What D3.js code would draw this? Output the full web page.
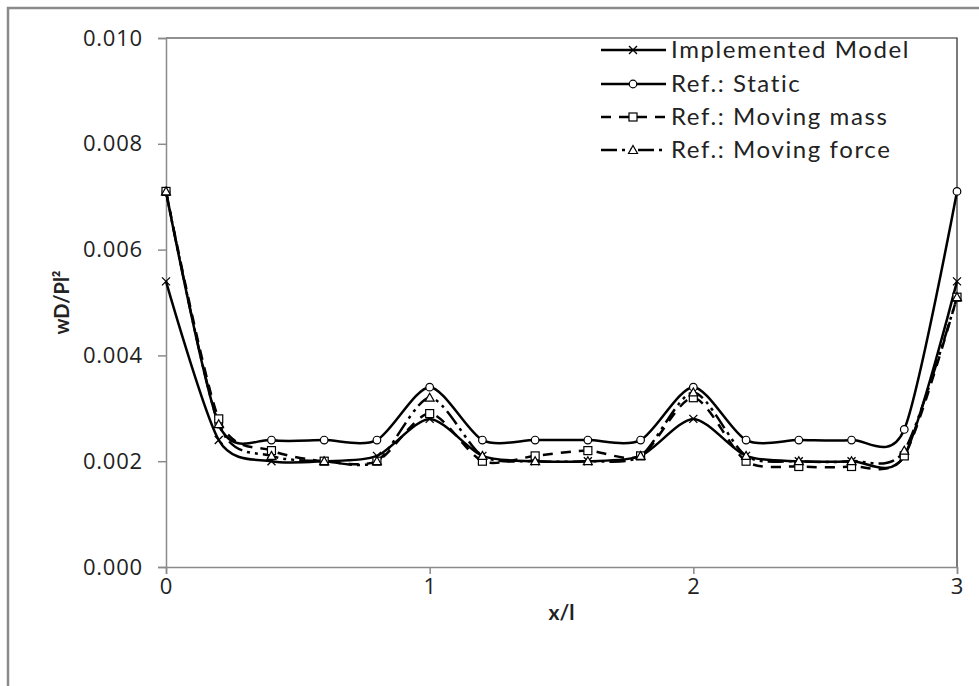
<!DOCTYPE html>
<html>
<head>
<meta charset="utf-8">
<script src="https://cdn.jsdelivr.net/npm/d3@7"></script>
<style>
  body { margin: 0; background: #fff; }
  svg { display: block; }
</style>
</head>
<body>
<div id="chart"></div>
<script>
// x/l stations along the three spans
const xValues = [0, 0.2, 0.4, 0.6, 0.8, 1.0, 1.2, 1.4, 1.6, 1.8, 2.0, 2.2, 2.4, 2.6, 2.8, 3.0];

// deflection wD/Pl^2
const implementedModel = [0.0054, 0.0024, 0.0020, 0.0020, 0.0021, 0.0028, 0.0021, 0.0020, 0.0020, 0.0021, 0.0028, 0.0021, 0.0020, 0.0020, 0.0021, 0.0054];
const refStatic = [0.0071, 0.0027, 0.0024, 0.0024, 0.0024, 0.0034, 0.0024, 0.0024, 0.0024, 0.0024, 0.0034, 0.0024, 0.0024, 0.0024, 0.0026, 0.0071];
const refMovingMass = [0.0071, 0.0028, 0.0022, 0.0020, 0.0020, 0.0029, 0.0020, 0.0021, 0.0022, 0.0021, 0.0032, 0.0020, 0.0019, 0.0019, 0.0021, 0.0051];
const refMovingForce = [0.0071, 0.0027, 0.0021, 0.0020, 0.0020, 0.0032, 0.0021, 0.0020, 0.0020, 0.0021, 0.0033, 0.0021, 0.0020, 0.0020, 0.0022, 0.0051];

const seriesNames = ['Implemented Model', 'Ref.: Static', 'Ref.: Moving mass', 'Ref.: Moving force'];
const xTicks = [0, 1, 2, 3];
const yTicks = [0, 0.002, 0.004, 0.006, 0.008, 0.010];

const width = 979;
const height = 686;
const plot = { left: 166, right: 957, top: 38, bottom: 567 };

const series = [
  { name: seriesNames[0], values: implementedModel, marker: 'x', dash: null },
  { name: seriesNames[1], values: refStatic, marker: 'circle', dash: null },
  { name: seriesNames[2], values: refMovingMass, marker: 'square', dash: '10,8' },
  { name: seriesNames[3], values: refMovingForce, marker: 'triangle', dash: '16,5,3,5,3,5' }
];

const svg = d3.select('#chart')
  .append('svg')
  .attr('width', width)
  .attr('height', height);

// outer chart frame (cropped at right/bottom in the original)
svg.append('rect')
  .attr('x', 8).attr('y', 8)
  .attr('width', 1000).attr('height', 1000)
  .attr('fill', 'none')
  .attr('stroke', '#8a8a8a')
  .attr('stroke-width', 2.5);

const x = d3.scaleLinear().domain([0, 3]).range([plot.left, plot.right]);
const y = d3.scaleLinear().domain([0, 0.010]).range([plot.bottom, plot.top]);

// plot frame top/right
svg.append('path')
  .attr('d', `M${plot.left},${plot.top}H${plot.right}V${plot.bottom}`)
  .attr('fill', 'none')
  .attr('stroke', '#222')
  .attr('stroke-width', 1.2);

const yAxis = svg.append('g')
  .attr('transform', `translate(${plot.left},0)`)
  .call(d3.axisLeft(y).tickValues(yTicks).tickFormat(d3.format('.3f')).tickSize(8).tickPadding(15));

const xAxis = svg.append('g')
  .attr('transform', `translate(0,${plot.bottom})`)
  .call(d3.axisBottom(x).tickValues(xTicks).tickFormat(d3.format('d')).tickSize(7).tickPadding(4));

[xAxis, yAxis].forEach(ax => {
  ax.select('.domain').attr('stroke', '#8a8a8a').attr('stroke-width', 1.5);
  ax.selectAll('.tick line').attr('stroke', '#8a8a8a').attr('stroke-width', 1.5);
  ax.selectAll('.tick text')
    .attr('fill', '#222')
    .style('font-family', '"Open Sans", sans-serif')
    .style('font-size', '22px')
    .style('letter-spacing', '0.8px');
});

svg.append('text')
  .attr('x', (plot.left + plot.right) / 2)
  .attr('y', 620)
  .attr('text-anchor', 'middle')
  .style('font-family', 'Lato, sans-serif')
  .style('font-weight', 'bold')
  .style('font-size', '21px')
  .attr('fill', '#222')
  .text('x/l');

svg.append('text')
  .attr('transform', `translate(69,${(plot.top + plot.bottom) / 2}) rotate(-90)`)
  .attr('text-anchor', 'middle')
  .style('font-family', 'Lato, sans-serif')
  .style('font-weight', 'bold')
  .style('font-size', '20px')
  .attr('fill', '#222')
  .text('wD/Pl²');

const line = d3.line()
  .x((d, i) => x(xValues[i]))
  .y(d => y(d))
  .curve(d3.curveCardinal.tension(0.2));

const linesG = svg.append('g');
series.forEach(s => {
  linesG.append('path')
    .datum(s.values)
    .attr('d', line)
    .attr('fill', 'none')
    .attr('stroke', '#000')
    .attr('stroke-width', 2.5)
    .attr('stroke-dasharray', s.dash);
});

function drawMarker(g, type, cx, cy) {
  if (type === 'x') {
    const r = 4;
    g.append('path')
      .attr('d', `M${cx - r},${cy - r}L${cx + r},${cy + r}M${cx - r},${cy + r}L${cx + r},${cy - r}`)
      .attr('stroke', '#000').attr('stroke-width', 1.3);
  } else if (type === 'circle') {
    g.append('circle')
      .attr('cx', cx).attr('cy', cy).attr('r', 3.8)
      .attr('fill', '#fff').attr('stroke', '#000').attr('stroke-width', 1.2);
  } else if (type === 'square') {
    g.append('rect')
      .attr('x', cx - 4).attr('y', cy - 4).attr('width', 8).attr('height', 8)
      .attr('fill', '#fff').attr('stroke', '#000').attr('stroke-width', 1.2);
  } else if (type === 'triangle') {
    g.append('path')
      .attr('d', `M${cx},${cy - 4.5}L${cx + 4.5},${cy + 3.5}L${cx - 4.5},${cy + 3.5}Z`)
      .attr('fill', '#fff').attr('stroke', '#000').attr('stroke-width', 1.2);
  }
}

const markersG = svg.append('g');
series.forEach(s => {
  s.values.forEach((v, i) => drawMarker(markersG, s.marker, x(xValues[i]), y(v)));
});

// legend
const legend = svg.append('g');
const legendRows = [50, 84, 117, 150];
series.forEach((s, i) => {
  const ly = legendRows[i];
  legend.append('line')
    .attr('x1', 601).attr('x2', 666)
    .attr('y1', ly).attr('y2', ly)
    .attr('stroke', '#000')
    .attr('stroke-width', 2.5)
    .attr('stroke-dasharray', s.dash);
  drawMarker(legend, s.marker, 633, ly);
  legend.append('text')
    .attr('x', 671)
    .attr('y', ly)
    .attr('dy', '0.35em')
    .style('font-family', 'Lato, sans-serif')
    .style('font-size', '24px')
    .style('letter-spacing', '1.6px')
    .attr('fill', '#222')
    .text(s.name);
});
</script>
</body>
</html>
